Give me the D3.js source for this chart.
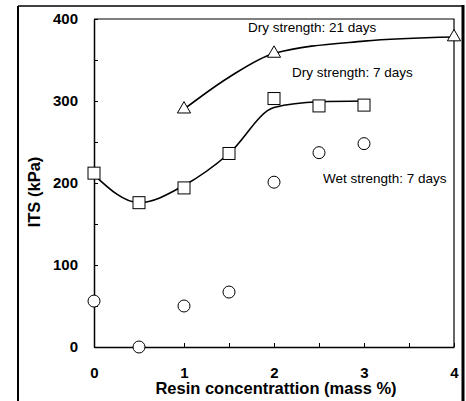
<!DOCTYPE html>
<html>
<head>
<meta charset="utf-8">
<script src="https://cdn.jsdelivr.net/npm/d3@7"></script>
<style>
    body { margin: 0; background: #fff; }
    svg { display: block; font-family: 'Liberation Sans', Arial, sans-serif; }
    .tick text { font-weight: bold; font-size: 15px; fill: #000; }
</style>
</head>
<body>
<svg id="chart" width="466" height="401"></svg>
<script>
'use strict';

// resin concentration (mass %)
var dry21X = [1, 2, 4];
var dry21Y = [290, 358, 378];
// hand fitted curve through the dry 21 day points
var dry21FitX = [1, 1.5, 2, 3, 4];
var dry21Fit = [290, 329, 358, 373, 378];

var dry7X = [0, 0.5, 1, 1.5, 2, 2.5, 3];
var dry7Y = [212, 176, 194, 236, 303, 294, 295];
// hand fitted curve through the dry 7 day points
var dry7Fit = [210, 176, 197, 236, 292, 299, 300];

var wet7X = [0, 0.5, 1, 1.5, 2, 2.5, 3];
var wet7Y = [56, 0, 50, 67, 201, 237, 248];

var xTicks = [0, 0.5, 1, 1.5, 2, 2.5, 3, 3.5, 4];
var yTicks = [0, 50, 100, 150, 200, 250, 300, 350, 400];

var svg = d3.select('#chart');

var x = d3.scaleLinear().domain([0, 4]).range([94, 454]);
var y = d3.scaleLinear().domain([0, 400]).range([347, 19]);

function zip(xs, ys) {
    return xs.map(function(v, i) { return { x: v, y: ys[i] }; });
}

// scanned outer frame
svg.append('line').attr('x1', 18).attr('y1', 6).attr('x2', 18).attr('y2', 401)
    .attr('stroke', '#000').attr('stroke-width', 2);
svg.append('line').attr('x1', 18).attr('y1', 6).attr('x2', 463).attr('y2', 6)
    .attr('stroke', '#000').attr('stroke-width', 1.5);
svg.append('line').attr('x1', 463).attr('y1', 5).attr('x2', 463).attr('y2', 401)
    .attr('stroke', '#000').attr('stroke-width', 3);

// plot box top and right
svg.append('path')
    .attr('d', 'M' + x(0) + ',' + y(400) + 'H' + x(4) + 'V' + y(0))
    .attr('fill', 'none').attr('stroke', '#000').attr('stroke-width', 1.2);

var xAxis = d3.axisBottom(x)
    .tickValues(xTicks)
    .tickSizeInner(-4)
    .tickSizeOuter(0)
    .tickPadding(20)
    .tickFormat(function(d) { return d % 1 === 0 ? d : ''; });

var yAxis = d3.axisLeft(y)
    .tickValues(yTicks)
    .tickSizeInner(-4)
    .tickSizeOuter(0)
    .tickPadding(16)
    .tickFormat(function(d) { return d % 100 === 0 ? d : ''; });

var gx = svg.append('g').attr('transform', 'translate(0,' + y(0) + ')').call(xAxis);
var gy = svg.append('g').attr('transform', 'translate(' + x(0) + ',0)').call(yAxis);
[gx, gy].forEach(function(g) {
    g.select('.domain').attr('stroke-width', 1.5);
    g.selectAll('.tick line').attr('stroke-width', 1);
});

svg.append('text')
    .attr('x', 276).attr('y', 394)
    .attr('text-anchor', 'middle')
    .style('font-weight', 'bold').style('font-size', '16.5px')
    .text('Resin concentrattion (mass %)');

svg.append('text')
    .attr('transform', 'translate(40,192) rotate(-90)')
    .attr('text-anchor', 'middle')
    .style('font-weight', 'bold').style('font-size', '16.5px')
    .text('ITS (kPa)');

var line = d3.line()
    .x(function(d) { return x(d.x); })
    .y(function(d) { return y(d.y); })
    .curve(d3.curveMonotoneX);

svg.append('path')
    .datum(zip(dry21FitX, dry21Fit))
    .attr('d', line)
    .attr('fill', 'none').attr('stroke', '#000').attr('stroke-width', 1.6);

svg.append('path')
    .datum(zip(dry7X, dry7Fit))
    .attr('d', line)
    .attr('fill', 'none').attr('stroke', '#000').attr('stroke-width', 1.6);

var tri = d3.symbol().type(d3.symbolTriangle).size(75);
svg.selectAll('.tri')
    .data(zip(dry21X, dry21Y))
    .enter().append('path')
    .attr('class', 'tri')
    .attr('d', tri)
    .attr('transform', function(d) { return 'translate(' + x(d.x) + ',' + y(d.y) + ')'; })
    .attr('fill', '#fff').attr('stroke', '#000').attr('stroke-width', 1);

svg.selectAll('.sq')
    .data(zip(dry7X, dry7Y))
    .enter().append('rect')
    .attr('class', 'sq')
    .attr('x', function(d) { return x(d.x) - 6; })
    .attr('y', function(d) { return y(d.y) - 6; })
    .attr('width', 12).attr('height', 12)
    .attr('fill', '#fff').attr('stroke', '#000').attr('stroke-width', 1);

svg.selectAll('.circ')
    .data(zip(wet7X, wet7Y))
    .enter().append('circle')
    .attr('class', 'circ')
    .attr('cx', function(d) { return x(d.x); })
    .attr('cy', function(d) { return y(d.y); })
    .attr('r', 6)
    .attr('fill', '#fff').attr('stroke', '#000').attr('stroke-width', 1);

var notes = [
    { text: 'Dry strength: 21 days', x: 248, y: 32 },
    { text: 'Dry strength: 7 days', x: 292, y: 77 },
    { text: 'Wet strength: 7 days', x: 323, y: 183 }
];
svg.selectAll('.note')
    .data(notes)
    .enter().append('text')
    .attr('class', 'note')
    .attr('x', function(d) { return d.x; })
    .attr('y', function(d) { return d.y; })
    .style('font-size', '13.5px')
    .text(function(d) { return d.text; });
</script>
</body>
</html>
